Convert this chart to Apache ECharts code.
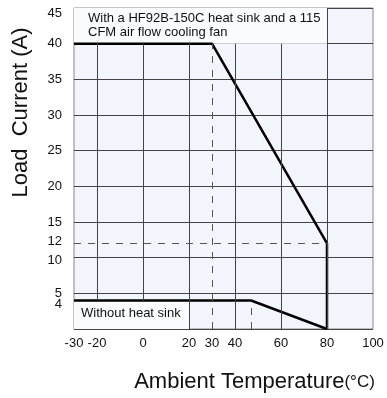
<!DOCTYPE html>
<html>
<head>
<meta charset="utf-8">
<script src="https://cdn.jsdelivr.net/npm/echarts@6/dist/echarts.min.js"></script>
<style>
  html, body { margin: 0; padding: 0; background: #fff; }
  #main { width: 387px; height: 398px; }
</style>
</head>
<body>
<div id="main"></div>
<script>
// derating curves (temperature in °C, current in A)
var fanTemp = [-30, 30, 80, 80];
var fanCurrent = [40, 40, 12, 0];
var bareTemp = [-30, 47, 80];
var bareCurrent = [4, 4, 0];

// tick labels
var xLabels = [-30, -20, 0, 20, 30, 40, 60, 80, 100];
var yLabels = [5, 10, 15, 20, 25, 30, 35, 40, 45];
var yExtraLabels = [4, 12];
// vertical grid lines
var xGrid = [-20, 0, 20, 40, 60, 80];

var fanNote = 'With a HF92B-150C heat sink and a 115\nCFM air flow cooling fan';
var bareNote = 'Without heat sink';

var bg = '#f2f5fc';
var boxBg = '#f9fbff';
var font = 'Liberation Sans, Arial, sans-serif';

function pairs(xs, ys) {
  return xs.map(function (x, i) { return [x, ys[i]]; });
}

var dashStyle = { color: '#555', width: 1, type: [7, 7] };
var labelStyle = { color: '#111', fontSize: 13, fontFamily: font };

var myChart = echarts.init(document.getElementById('main'));
myChart.setOption({
  animation: false,
  grid: {
    left: 74, top: 8, right: 14, bottom: 69,
    show: true, backgroundColor: bg, borderColor: '#888', borderWidth: 1
  },
  xAxis: {
    type: 'value', min: -30, max: 100,
    axisLine: { show: false }, axisTick: { show: false },
    splitLine: { show: false },
    axisLabel: Object.assign({
      customValues: xLabels, margin: 8, hideOverlap: false,
      showMinLabel: true, showMaxLabel: true
    }, labelStyle),
    name: 'Ambient Temperature{u|(°C)}',
    nameLocation: 'middle', nameGap: 42,
    nameTextStyle: {
      fontSize: 22, color: '#111', fontFamily: font, padding: [0, 0, 0, 62],
      rich: { u: { fontSize: 17, color: '#111', fontFamily: font } }
    }
  },
  yAxis: [
    {
      type: 'value', min: 0, max: 45, interval: 5,
      axisLine: { show: false }, axisTick: { show: false },
      splitLine: { show: true, lineStyle: { color: '#444', width: 1 } },
      axisLabel: Object.assign({
        customValues: yLabels, margin: 12, hideOverlap: false,
        showMinLabel: true, showMaxLabel: true,
        formatter: function (v) {
          if (v === 10) return '{dn|10}';
          if (v === 45) return '{top|45}';
          return String(v);
        },
        rich: {
          dn: Object.assign({ padding: [5, 0, 0, 0] }, labelStyle),
          top: Object.assign({ padding: [10, 0, 0, 0] }, labelStyle)
        }
      }, labelStyle),
      name: 'Load  Current (A)',
      nameLocation: 'middle', nameGap: 42, nameRotate: 90,
      nameTextStyle: {
        fontSize: 22, color: '#111', fontFamily: font, padding: [0, 0, 0, 112]
      }
    },
    {
      // second label row for the close values 4 and 12
      type: 'value', min: 0, max: 45, position: 'left',
      axisLine: { show: false }, axisTick: { show: false },
      splitLine: { show: false },
      axisLabel: Object.assign({
        customValues: yExtraLabels, margin: 12, hideOverlap: false,
        formatter: function (v) { return v === 4 ? '{dn|4}' : '{up|' + v + '}'; },
        rich: {
          dn: Object.assign({ padding: [7, 0, 0, 0] }, labelStyle),
          up: Object.assign({ padding: [0, 0, 4, 0] }, labelStyle)
        }
      }, labelStyle)
    }
  ],
  series: [
    {
      // note boxes
      type: 'line', data: [], z: 1, silent: true,
      markArea: {
        silent: true,
        itemStyle: { color: boxBg, opacity: 1 },
        label: { show: false },
        data: [
          [{ coord: [-30, 40] }, { coord: [80, 45] }],
          [{ coord: [-30, 0] }, { coord: [20, 4] }]
        ]
      }
    },
    {
      // vertical grid lines, kept out of the note boxes
      type: 'line', data: [], z: 2, silent: true,
      markLine: {
        symbol: 'none', silent: true, animation: false,
        label: { show: false },
        lineStyle: { color: '#444', width: 1, type: 'solid' },
        data: xGrid.map(function (x) {
          var y0 = x < 20 ? 4 : 0;
          var y1 = x >= 80 ? 45 : 40;
          return [{ coord: [x, y0] }, { coord: [x, y1] }];
        })
      }
    },
    {
      type: 'line', data: [], z: 3, silent: true,
      markLine: {
        symbol: 'none', silent: true, animation: false,
        label: { show: false },
        lineStyle: dashStyle,
        data: [
          [{ coord: [fanTemp[1], 0] }, { coord: [fanTemp[1], fanCurrent[1]] }],
          [{ coord: [-30, fanCurrent[2]] }, { coord: [fanTemp[2], fanCurrent[2]] }],
          [{ coord: [bareTemp[1], 0] }, { coord: [bareTemp[1], bareCurrent[1]] }]
        ]
      }
    },
    {
      name: 'fan', type: 'line', z: 4, symbol: 'none',
      lineStyle: { color: '#000', width: 2.5 },
      data: pairs(fanTemp, fanCurrent)
    },
    {
      name: 'bare', type: 'line', z: 4, symbol: 'none',
      lineStyle: { color: '#000', width: 2.5 },
      data: pairs(bareTemp, bareCurrent)
    }
  ]
});

// note texts placed inside their boxes
var topLeft = myChart.convertToPixel({ gridIndex: 0 }, [-30, 45]);
var botLeft = myChart.convertToPixel({ gridIndex: 0 }, [-30, 2]);
myChart.setOption({
  graphic: [
    { type: 'text', left: topLeft[0] + 14, top: topLeft[1] + 3, z: 10,
      style: { text: fanNote, fill: '#111', font: '13px ' + font, lineHeight: 14 } },
    { type: 'text', left: botLeft[0] + 7, top: botLeft[1] - 8, z: 10,
      style: { text: bareNote, fill: '#111', font: '13px ' + font } }
  ]
});
</script>
</body>
</html>
